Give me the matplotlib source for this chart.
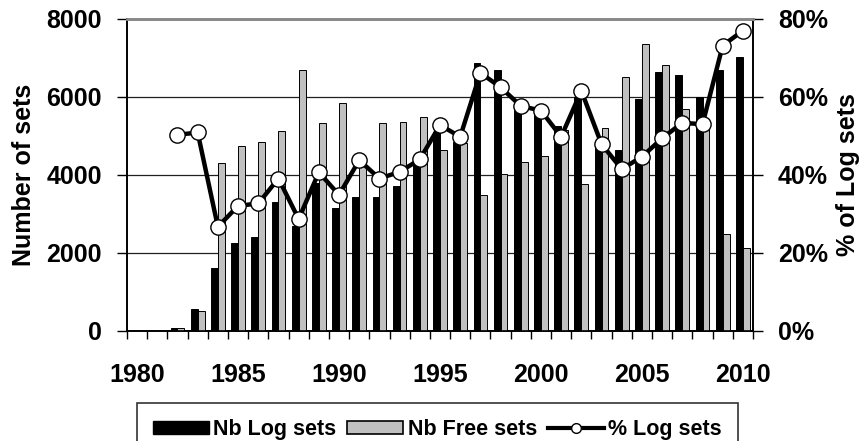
import matplotlib
matplotlib.use("Agg")
import matplotlib.pyplot as plt
import numpy as np
from matplotlib.ticker import FuncFormatter, FixedLocator, MultipleLocator
from matplotlib.patches import Patch
from matplotlib.lines import Line2D

plt.rcParams['font.family'] = ['Liberation Sans', 'DejaVu Sans']
plt.rcParams['font.weight'] = 'bold'

years = list(range(1980, 2011))
nb_log = [0, 0, 85, 555, 1607, 2265, 2402, 3316, 2694, 3787,
          3146, 3444, 3444, 3718, 4256, 5110, 4850, 6863, 6692, 5900,
          5700, 5250, 6008, 4800, 4641, 5949, 6633, 6564, 5992, 6692, 7018]
nb_free = [0, 0, 80, 513, 4316, 4752, 4838, 5136, 6692, 5341,
           5838, 4419, 5341, 5367, 5495, 4641, 4812, 3487, 4026, 4341,
           4487, 5150, 3769, 5213, 6521, 7351, 6820, 5684, 5313, 2479, 2120]
pct_years = list(range(1982, 2011))
pct_log = [50.3, 50.9, 26.7, 32.1, 32.7, 39.1, 28.7, 40.7, 34.9, 43.8,
           39.1, 40.8, 44.0, 52.8, 49.8, 66.2, 62.5, 57.7, 56.5, 49.8,
           61.6, 47.9, 41.5, 44.7, 49.4, 53.4, 53.0, 73.2, 77.0]
xtick_labels = ['1980', '1985', '1990', '1995', '2000', '2005', '2010']

W, H = 867, 441
fig = plt.figure(figsize=(W / 100, H / 100), dpi=100)
ax = fig.add_axes([127 / W, 1 - 331 / H, (753 - 127) / W, (331 - 19) / H])
ax2 = ax.twinx()

x = np.arange(len(years))
pct_x = np.array([years.index(y) for y in pct_years])
bw = 0.34
ax.bar(x - 0.17, nb_log, width=bw, color='black', edgecolor='black', linewidth=0.7, zorder=3)
ax.bar(x + 0.17, nb_free, width=bw, color='#C0C0C0', edgecolor='black', linewidth=0.7, zorder=3)

ax2.plot(pct_x, pct_log, color='black', lw=3.2, marker='o', ms=11,
         mfc='white', mec='black', mew=1.0, zorder=5)

ax.set_xlim(-0.5, len(years) - 0.5)
ax.set_ylim(0, 8000)
ax2.set_ylim(0, 80)

ax.yaxis.set_major_locator(MultipleLocator(2000))
ax2.yaxis.set_major_locator(MultipleLocator(20))
ax2.yaxis.set_major_formatter(FuncFormatter(lambda v, p: f"{int(v)}%"))

ax.grid(axis='y', color='#202020', lw=0.9, zorder=0)
ax.set_axisbelow(True)

# x ticks: labels at category centres, tick marks between categories
label_pos = [years.index(int(s)) for s in xtick_labels]
ax.set_xticks(label_pos)
ax.set_xticklabels(xtick_labels)
ax.tick_params(axis='x', which='major', length=0, pad=23, labelsize=18)
ax.xaxis.set_minor_locator(FixedLocator(np.arange(-0.5, len(years), 1.0)))
ax.tick_params(axis='x', which='minor', length=6, width=1, direction='out', color='black')

ax.tick_params(axis='y', length=7, width=1, direction='out', pad=11, labelsize=18)
ax2.tick_params(axis='y', length=7, width=1, direction='out', pad=11, labelsize=18)

for a in (ax, ax2):
    a.spines['top'].set_color('#8a8a8a')
    a.spines['top'].set_linewidth(2)
    a.spines['left'].set_linewidth(1.2)
    a.spines['right'].set_linewidth(1.2)
    a.spines['bottom'].set_linewidth(1.2)

ax.set_ylabel('Number of sets', fontsize=18, fontweight='bold')
ax.yaxis.set_label_coords(-0.145, 0.5)
ax2.set_ylabel('% of Log sets', fontsize=18, fontweight='bold')
ax2.yaxis.set_label_coords(1.133, 0.5)

handles = [Patch(facecolor='black', edgecolor='black'),
           Patch(facecolor='#C0C0C0', edgecolor='black', linewidth=1.2),
           Line2D([], [], color='black', lw=3, marker='o', ms=7, mfc='white', mec='black')]
labels = ['Nb Log sets', 'Nb Free sets', '% Log sets']
leg = fig.legend(handles, labels, loc='upper left', bbox_to_anchor=(137 / W, 1 - 403 / H),
                 ncol=3, frameon=True, fancybox=False, edgecolor='black',
                 prop={'size': 15.5, 'weight': 'bold'}, handlelength=2.6, handleheight=0.6,
                 handletextpad=0.2, columnspacing=0.5, borderaxespad=0, borderpad=0.75)
leg.get_frame().set_linewidth(1.2)

fig.savefig('out.png', dpi=100)
